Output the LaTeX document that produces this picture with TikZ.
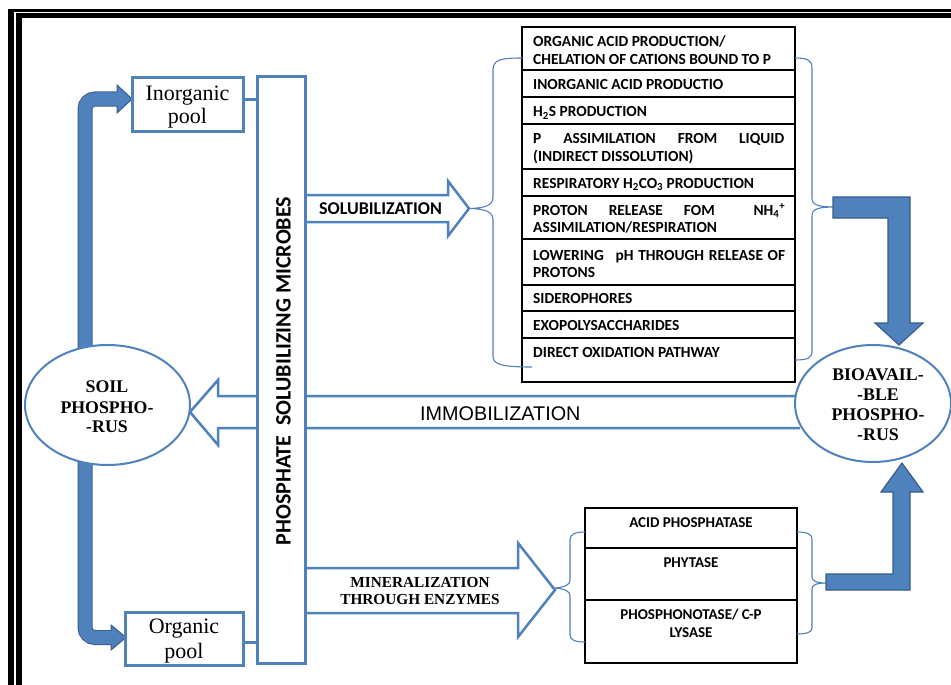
\documentclass[tikz,border=0pt]{standalone}
\usepackage{fontspec}
\setmainfont{Liberation Serif}
\newfontfamily\calibrifont{Carlito}
\newfontfamily\arialfont{Liberation Sans}
\usetikzlibrary{shapes.geometric}
\definecolor{ofblue}{HTML}{4F81BD}
\definecolor{ofdark}{HTML}{385D8A}
\begin{document}
\begin{tikzpicture}[x=1pt,y=-1pt,
  bluebox/.style={draw=ofblue, line width=3pt, fill=white, inner sep=0pt},
  ellbox/.style={ellipse, draw=ofblue, line width=2pt, fill=white, inner sep=0pt},
  listrow/.style={draw=black, line width=2pt, minimum width=273pt, inner sep=0pt},
  enzrow/.style={draw=black, line width=2pt, minimum width=212pt, inner sep=0pt},
  hollow/.style={draw=ofblue, line width=2.5pt, fill=white, line join=miter},
  bracepath/.style={draw=ofblue, line width=1.1pt},
  fatarrow/.style={fill=ofblue, draw=ofdark, line width=1.2pt, line join=miter},
  fatshaft/.style={draw=ofdark, line width=1pt, double=ofblue, double distance=13pt, rounded corners=10pt},
  listtext/.style={font=\calibrifont\bfseries\fontsize{15.4}{17.5}\selectfont, anchor=base west, inner sep=0pt},
  enztext/.style={font=\calibrifont\bfseries\fontsize{15}{17.5}\selectfont, anchor=base, inner sep=0pt},
  pooltext/.style={font=\fontsize{22}{24}\selectfont, anchor=base, inner sep=0pt},
  elltext/.style={font=\bfseries\fontsize{17.8}{20}\selectfont, anchor=base, inner sep=0pt},
  mintext/.style={font=\bfseries\fontsize{15.3}{17}\selectfont, anchor=base, inner sep=0pt}
]
\useasboundingbox (0,0) rectangle (951,685);
\fill[white] (0,0) rectangle (951,685);
% frame
\fill[black] (8,9.5) rectangle (951,11.8);
\fill[black] (15.5,13.5) rectangle (951,18.5);
\fill[black] (7.5,9.5) rectangle (13.5,685);
\fill[black] (15.5,13.5) rectangle (21.5,685);

% hollow arrows
\draw[hollow] (305,195) -- (448,195) -- (448,181) -- (469,208.5) -- (448,236) -- (448,222) -- (305,222);
\draw[hollow] (800,396) -- (218,396) -- (218,380) -- (190,412) -- (218,445) -- (218,428) -- (800,428);
\draw[hollow] (305,568) -- (518,568) -- (518,543) -- (555,590) -- (518,637) -- (518,613) -- (305,613);

% fat curved arrows
\draw[fatshaft] (85,370) -- (85,99) -- (120,99);
\fill[ofblue] (117,85) -- (132,99) -- (117,113) -- cycle;
\draw[ofdark, line width=1pt, line join=miter] (117,92.5) -- (117,85) -- (132,99) -- (117,113) -- (117,105.5);
\draw[fatshaft] (85,440) -- (85,637.5) -- (114,637.5);
\fill[ofblue] (111,625) -- (126,637.5) -- (111,650) -- cycle;
\draw[ofdark, line width=1pt, line join=miter] (111,631) -- (111,625) -- (126,637.5) -- (111,650) -- (111,644);

% boxes
\node[bluebox, minimum width=111pt, minimum height=53pt] (inorg) at (187.5,104.5) {};
\node[bluebox, minimum width=118pt, minimum height=53pt] (org) at (184,638.5) {};
\node[bluebox, minimum width=48pt, minimum height=586pt] (psm) at (281,370) {};
\draw[ofblue, line width=3pt] (inorg.east |- 0,100) -- (psm.west |- 0,100);
\draw[ofblue, line width=3pt] (org.east |- 0,642) -- (psm.west |- 0,642);

% ellipses
\node[ellbox, minimum width=165pt, minimum height=120pt] (soil) at (107.5,405) {};
\node[ellbox, minimum width=156pt, minimum height=117pt] (bio) at (873,403.5) {};

% list rows
\node[listrow, minimum height=43pt] (r1) at (658.5,48.5) {};
\node[listrow, minimum height=27pt] (r2) at (658.5,83.5) {};
\node[listrow, minimum height=27pt] (r3) at (658.5,110.5) {};
\node[listrow, minimum height=45pt] (r4) at (658.5,146.5) {};
\node[listrow, minimum height=27pt] (r5) at (658.5,182.5) {};
\node[listrow, minimum height=43pt] (r6) at (658.5,217.5) {};
\node[listrow, minimum height=46pt] (r7) at (658.5,262) {};
\node[listrow, minimum height=26pt] (r8) at (658.5,298) {};
\node[listrow, minimum height=27pt] (r9) at (658.5,324.5) {};
\node[listrow, minimum height=44pt] (r10) at (658.5,360) {};

\node[enzrow, minimum height=40pt] (e1) at (691,528) {};
\node[enzrow, minimum height=52pt] (e2) at (691,574) {};
\node[enzrow, minimum height=63pt] (e3) at (691,631.5) {};

% braces
\draw[bracepath] (522,58) .. controls (500,58) and (493,60) .. (493,70) -- (493,197) .. controls (493,205) and (486,208) .. (470,208.5) .. controls (486,209) and (493,212) .. (493,220) -- (493,356) .. controls (493,364) and (500,367) .. (532,367);
\draw[bracepath] (795,58) .. controls (807,58) and (812,60) .. (812,68) -- (812,198) .. controls (812,205) and (818,207) .. (835,207) .. controls (818,207) and (812,209) .. (812,216) -- (812,352) .. controls (812,358) and (807,360) .. (795,360);
\draw[bracepath] (585,532) .. controls (575,532) and (570,534) .. (570,540) -- (570,580) .. controls (570,585) and (565,587) .. (555,588) .. controls (565,589) and (570,591) .. (570,596) -- (570,635) .. controls (570,640) and (575,642) .. (585,642);
\draw[bracepath] (797,532) .. controls (807,532) and (812,534) .. (812,539) -- (812,577) .. controls (812,581) and (816,583) .. (827,583) .. controls (816,583) and (812,585) .. (812,589) -- (812,628) .. controls (812,632) and (807,634) .. (797,634);

% L arrows
\draw[fatarrow] (833,197) -- (910,197) -- (910,323) -- (923,323) -- (899,345) -- (875,323) -- (888,323) -- (888,218) -- (833,218) -- cycle;
\draw[fatarrow] (826,574) -- (893,574) -- (893,492) -- (881,492) -- (902,463) -- (923,492) -- (910,492) -- (910,590) -- (826,590) -- cycle;

% texts
\node[pooltext] (tin1) at (187.5,100) {Inorganic};
\node[pooltext] (tin2) at (187.5,124) {pool};
\node[pooltext] (tor1) at (184,633) {Organic};
\node[pooltext] (tor2) at (184,658) {pool};

\node[rotate=90, font=\calibrifont\bfseries\fontsize{22}{24}\selectfont, inner sep=0pt] (tpsm) at (283.5,371) {PHOSPHATE\ \ SOLUBILIZING MICROBES};

\node[font=\calibrifont\bfseries\fontsize{18}{20}\selectfont, anchor=base west, inner sep=0pt] (tsol) at (319,214) {SOLUBILIZATION};
\node[font=\arialfont\fontsize{19.8}{22}\selectfont, anchor=base west, inner sep=0pt] (timm) at (420,420) {IMMOBILIZATION};
\node[mintext] (tmin1) at (420,587) {MINERALIZATION};
\node[mintext] (tmin2) at (420,604) {THROUGH ENZYMES};

\node[elltext] (ts1) at (107,392) {SOIL};
\node[elltext] (ts2) at (107,413) {PHOSPHO-};
\node[elltext] (ts3) at (107,432) {-RUS};
\node[elltext] (tb1) at (878,380) {BIOAVAIL-};
\node[elltext] (tb2) at (878,400) {-BLE};
\node[elltext] (tb3) at (878,420) {PHOSPHO-};
\node[elltext] (tb4) at (878,440) {-RUS};

\node[listtext] (l1a) at (533,47) {ORGANIC ACID PRODUCTION/};
\node[listtext] (l1b) at (533,64.5) {CHELATION OF CATIONS BOUND TO P};
\node[listtext] (l2) at (533,90) {INORGANIC ACID PRODUCTIO};
\node[listtext] (l3) at (533,117) {H\textsubscript{2}S PRODUCTION};
\node[listtext] (l4a) at (533,143.5) {\hbox to 251pt{P\hfill ASSIMILATION\hfill FROM\hfill LIQUID}};
\node[listtext] (l4b) at (533,161) {(INDIRECT DISSOLUTION)};
\node[listtext] (l5) at (533,188.5) {RESPIRATORY H\textsubscript{2}CO\textsubscript{3} PRODUCTION};
\node[listtext] (l6a) at (533,215) {\hbox to 252pt{PROTON\hspace{21pt}RELEASE\hspace{21pt}FOM\hfill NH\textsubscript{4}\textsuperscript{+}}};
\node[listtext] (l6b) at (533,232) {ASSIMILATION/RESPIRATION};
\node[listtext] (l7a) at (533,260) {\hbox to 252pt{LOWERING\hspace{7pt}\hfill pH\hfill THROUGH\hfill RELEASE\hfill OF}};
\node[listtext] (l7b) at (533,277) {PROTONS};
\node[listtext] (l8) at (533,303.5) {SIDEROPHORES};
\node[listtext] (l9) at (533,330) {EXOPOLYSACCHARIDES};
\node[listtext] (l10) at (533,357) {DIRECT OXIDATION PATHWAY};

\node[enztext] (n1) at (691,527) {ACID PHOSPHATASE};
\node[enztext] (n2) at (691,567) {PHYTASE};
\node[enztext] (n3a) at (691,619) {PHOSPHONOTASE/ C-P};
\node[enztext] (n3b) at (691,637) {LYSASE};
\end{tikzpicture}
\end{document}
